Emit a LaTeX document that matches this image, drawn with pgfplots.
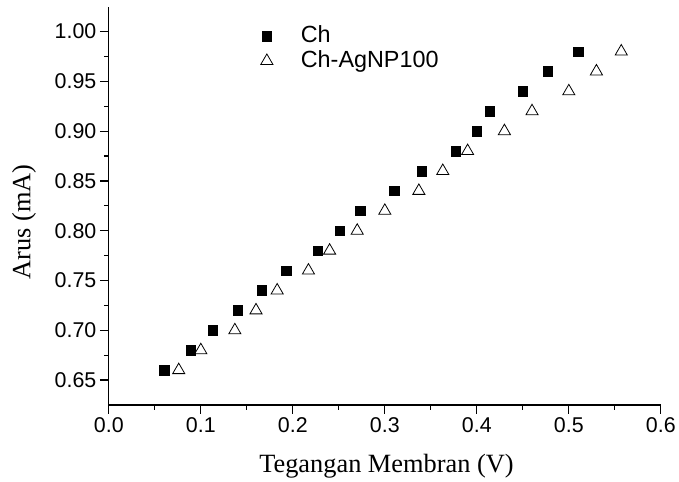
\documentclass[border=0pt]{standalone}
\usepackage{fontspec}
\setmainfont{Liberation Sans}
\newfontfamily\timesf{Liberation Serif}
\usepackage{pgfplots}
\pgfplotsset{compat=1.18}

\begin{document}
\begin{tikzpicture}
\begin{axis}[
  scale only axis,
  width=553bp, height=399bp,
  xmin=0, xmax=0.6,
  ymin=0.625, ymax=1.025,
  axis lines*=left,
  axis line style={line width=1.3bp},
  clip=false,
  tick align=outside,
  major tick length=9bp,
  minor tick length=5bp,
  tick style={line width=1.3bp, black},
  xtick={0,0.1,...,0.6},
  ytick={0.65,0.70,...,1.00},
  minor x tick num=1,
  minor y tick num=1,
  /pgf/number format/assume math mode=true,
  xticklabel style={/pgf/number format/fixed, /pgf/number format/fixed zerofill, /pgf/number format/precision=1},
  yticklabel style={/pgf/number format/fixed, /pgf/number format/fixed zerofill, /pgf/number format/precision=2},
  ticklabel style={font=\fontsize{21.5}{25}\selectfont},
  xlabel={Tegangan Membran (V)},
  ylabel={Arus (mA)},
  every axis x label/.style={at={(rel axis cs:0.503,0)}, anchor=base, yshift=-67.6bp, font=\timesf\fontsize{26.5}{30}\selectfont},
  every axis y label/.style={at={(rel axis cs:0,0.46)}, xshift=-85bp, rotate=90, anchor=center, font=\timesf\fontsize{26.5}{30}\selectfont},
  legend cell align=left,
  legend style={draw=none, fill=none, inner sep=0pt, at={(rel axis cs:0.275,0.952)}, anchor=north west,
    font=\fontsize{23.5}{27}\selectfont, column sep=27bp, row sep=3.5bp,
    nodes={inner sep=1pt, text height=16bp, text depth=3bp}},
]
\addplot[only marks, mark=square*, mark size=4.8bp, black]
  coordinates {
    (0.060,0.66) (0.089,0.68) (0.113,0.70) (0.140,0.72) (0.166,0.74)
    (0.193,0.76) (0.227,0.78) (0.251,0.80) (0.273,0.82) (0.310,0.84)
    (0.340,0.86) (0.377,0.88) (0.400,0.90) (0.414,0.92) (0.450,0.94)
    (0.477,0.96) (0.510,0.98)
  };
\addlegendentry{Ch}
\addplot[only marks, mark=triangle, mark size=7bp, black, mark options={line width=0.8bp}]
  coordinates {
    (0.076,0.66) (0.100,0.68) (0.137,0.70) (0.160,0.72) (0.183,0.74)
    (0.217,0.76) (0.240,0.78) (0.270,0.80) (0.300,0.82) (0.337,0.84)
    (0.363,0.86) (0.390,0.88) (0.430,0.90) (0.460,0.92) (0.500,0.94)
    (0.530,0.96) (0.557,0.98)
  };
\addlegendentry{Ch-AgNP100}
% page frame matching the reference margins
\path (rel axis cs:0,0) ++(-109bp,-73.3bp) rectangle ++(679bp,479bp);
\end{axis}
\end{tikzpicture}
\end{document}
